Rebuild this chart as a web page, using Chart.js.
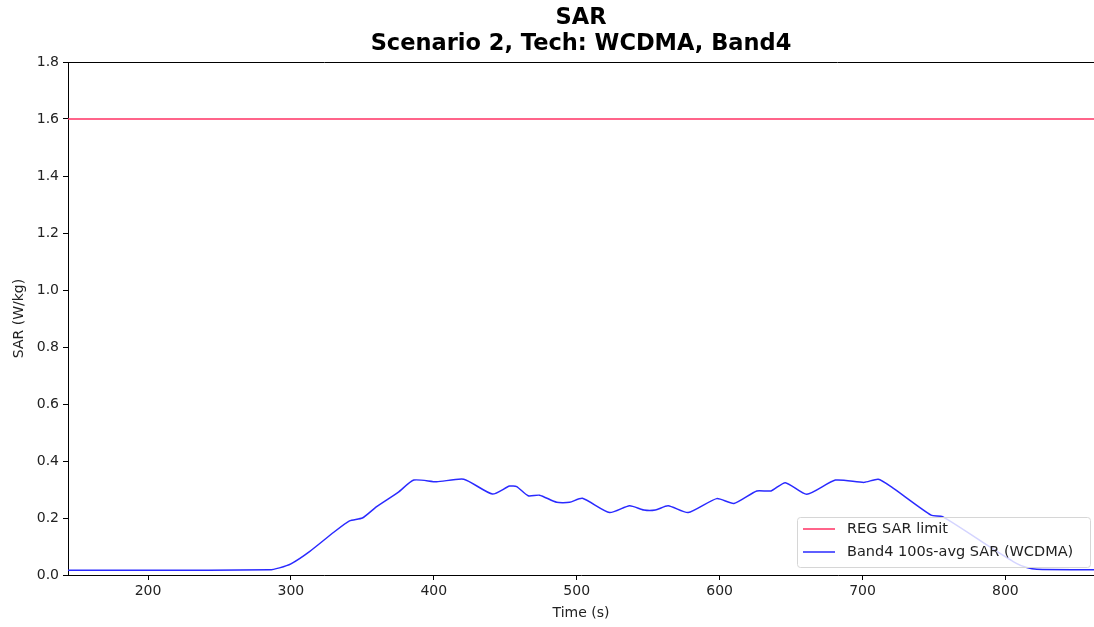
<!DOCTYPE html>
<html>
<head>
<meta charset="utf-8">
<script src="https://cdn.jsdelivr.net/npm/chart.js@4.4.0/dist/chart.umd.min.js"></script>
<style>
  html, body { margin: 0; padding: 0; background: #fff; }
  #wrap { width: 1094px; height: 627px; }
</style>
</head>
<body>
<div id="wrap"><canvas id="sar-chart" width="1094" height="627"></canvas></div>
<script>
// Datos
const xTicks = [200, 300, 400, 500, 600, 700, 800];
const yTicks = [0, 0.2, 0.4, 0.6, 0.8, 1.0, 1.2, 1.4, 1.6, 1.8];
const xRange = [144, 862];
const regLimit = 1.6;

const tiempos = [144, 200, 285, 292, 300, 313, 330, 341, 350, 360, 375, 386, 402, 421, 441, 453, 458, 466, 474,
  486, 495, 504, 523, 537, 547, 555, 564, 578, 598, 610, 626, 636, 646, 661, 681, 701, 711, 720, 748, 756,
  790, 808, 815, 822, 862];
const sarBand4 = [0.017, 0.017, 0.018, 0.025, 0.039, 0.082, 0.15, 0.19, 0.2, 0.24, 0.29, 0.333, 0.327, 0.336, 0.284, 0.312, 0.31, 0.278, 0.28,
  0.255, 0.255, 0.269, 0.219, 0.243, 0.228, 0.228, 0.243, 0.219, 0.268, 0.251, 0.295, 0.295, 0.324, 0.283, 0.333, 0.325, 0.336, 0.31, 0.21, 0.205,
  0.096, 0.04, 0.026, 0.02, 0.018];

const titulo = ['SAR', 'Scenario 2, Tech: WCDMA, Band4'];
const legendLabels = ['REG SAR limit', 'Band4 100s-avg SAR (WCDMA)'];
const colorLimite = '#ff3063';
const colorBand = '#2a2aff';

const FONT = '"DejaVu Sans", sans-serif';

// Título centrado sobre el área de datos y borde superior
const topDecor = {
  id: 'topDecor',
  afterDatasetsDraw(chart) {
    const { ctx, chartArea } = chart;
    ctx.save();
    ctx.strokeStyle = '#000';
    ctx.lineWidth = 1;
    ctx.beginPath();
    ctx.moveTo(chartArea.left, chartArea.top + 0.5);
    ctx.lineTo(chartArea.right, chartArea.top + 0.5);
    ctx.stroke();

    const cx = (chartArea.left + chartArea.right) / 2;
    ctx.fillStyle = '#000';
    ctx.font = 'bold 22.5px ' + FONT;
    ctx.textAlign = 'center';
    ctx.textBaseline = 'middle';
    titulo.forEach((linea, i) => ctx.fillText(linea, cx, 18 + i * 26.5));
    ctx.restore();
  }
};

// Leyenda dentro del gráfico, abajo a la derecha
const innerLegend = {
  id: 'innerLegend',
  afterDraw(chart) {
    const { ctx } = chart;
    const x = 797, y = 517, w = 293, h = 50;
    ctx.save();
    ctx.fillStyle = 'rgba(255,255,255,0.8)';
    ctx.strokeStyle = '#d6d6d6';
    ctx.lineWidth = 1;
    ctx.beginPath();
    ctx.roundRect(x + 0.5, y + 0.5, w, h, 3);
    ctx.fill();
    ctx.stroke();
    const colores = [colorLimite, colorBand];
    ctx.font = '14.5px ' + FONT;
    ctx.textBaseline = 'middle';
    legendLabels.forEach((label, i) => {
      const ly = y + 12 + i * 23;
      ctx.strokeStyle = colores[i];
      ctx.lineWidth = 1.5;
      ctx.beginPath();
      ctx.moveTo(x + 6, ly);
      ctx.lineTo(x + 38, ly);
      ctx.stroke();
      ctx.fillStyle = '#222';
      ctx.fillText(label, x + 50, ly);
    });
    ctx.restore();
  }
};

const ctx = document.getElementById('sar-chart').getContext('2d');
new Chart(ctx, {
  type: 'line',
  data: {
    datasets: [
      {
        label: legendLabels[0],
        data: xRange.map(t => ({ x: t, y: regLimit })),
        borderColor: colorLimite,
        borderWidth: 1.5,
        pointRadius: 0
      },
      {
        label: legendLabels[1],
        data: tiempos.map((t, i) => ({ x: t, y: sarBand4[i] })),
        borderColor: colorBand,
        borderWidth: 1.5,
        pointRadius: 0,
        tension: 0.2
      }
    ]
  },
  options: {
    responsive: false,
    animation: false,
    layout: { padding: { left: 0, right: 0, top: 62, bottom: 0 } },
    scales: {
      x: {
        type: 'linear',
        min: xRange[0],
        max: xRange[1],
        afterBuildTicks(scale) {
          scale.ticks = xTicks.map(v => ({ value: v }));
        },
        afterFit(scale) { scale.height = 52; },
        grid: { drawOnChartArea: false, drawTicks: true, tickLength: 5, color: '#000' },
        border: { display: true, color: '#000', width: 1 },
        ticks: { color: '#222', font: { family: FONT, size: 14 }, padding: 3, maxRotation: 0 },
        title: { display: true, text: 'Time (s)', color: '#222', font: { family: FONT, size: 14 }, padding: { top: 0, bottom: 5 } }
      },
      y: {
        type: 'linear',
        min: 0,
        max: 1.8,
        afterBuildTicks(scale) {
          scale.ticks = yTicks.map(v => ({ value: v }));
        },
        afterFit(scale) { scale.width = 68; },
        grid: { drawOnChartArea: false, drawTicks: true, tickLength: 5, color: '#000' },
        border: { display: true, color: '#000', width: 1 },
        ticks: {
          color: '#222', font: { family: FONT, size: 14 }, padding: 4,
          callback: v => Number(v).toFixed(1)
        },
        title: { display: true, text: 'SAR (W/kg)', color: '#222', font: { family: FONT, size: 14 }, padding: { top: 11, bottom: 0 } }
      }
    },
    plugins: {
      legend: { display: false },
      tooltip: { enabled: false },
      title: { display: false }
    }
  },
  plugins: [topDecor, innerLegend]
});
</script>
</body>
</html>
